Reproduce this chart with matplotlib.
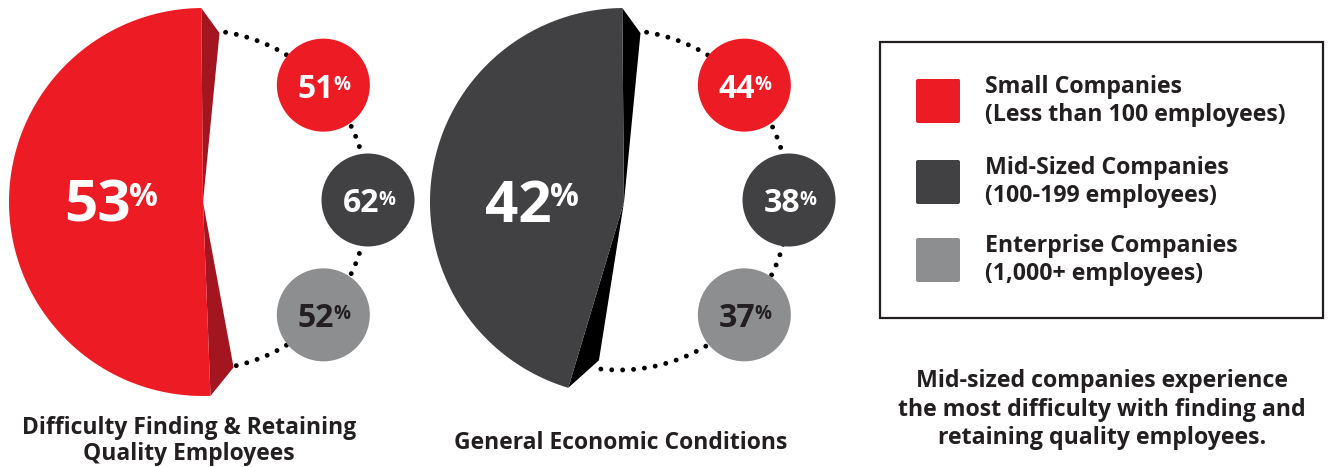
import numpy as np
import matplotlib
matplotlib.use("Agg")
import matplotlib.pyplot as plt
from matplotlib.patches import Polygon, Circle, FancyBboxPatch, Rectangle

# ---------------- data ----------------
panel_titles = ["Difficulty Finding & Retaining\nQuality Employees", "General Economic Conditions"]
overall_values = [53, 42]                      # big pie value per panel
small_values = [51, 44]                        # Small Companies
mid_values = [62, 38]                          # Mid-Sized Companies
enterprise_values = [52, 37]                   # Enterprise Companies
legend_titles = ["Small Companies", "Mid-Sized Companies", "Enterprise Companies"]
legend_subtitles = ["(Less than 100 employees)", "(100-199 employees)", "(1,000+ employees)"]
note_text = "Mid-sized companies experience\nthe most difficulty with finding and\nretaining quality employees."

# ---------------- style ----------------
RED = "#ed1c24"
DARK = "#414042"
GRAY = "#8d8e90"
INK = "#231f20"
front_colors = [RED, DARK]
side_colors = ["#a3151f", "#000000"]
seg_colors = [RED, DARK, GRAY]
seg_text_colors = ["white", "white", INK]
FONT = "Open Sans"

plt.rcParams["font.family"] = [FONT, "DejaVu Sans"]

W, H = 1331, 467
fig = plt.figure(figsize=(W / 100, H / 100), dpi=100)
ax = fig.add_axes([0, 0, 1, 1])
ax.set_xlim(0, W)
ax.set_ylim(H, 0)
ax.axis("off")
renderer = fig.canvas.get_renderer()

PX = 100 / 72.0  # pixels per point
CAPR = 0.714


def pt(cx, cy, r, a):
    """point at visual angle a (deg, counter-clockwise, y up) on a y-down canvas"""
    ar = np.radians(a)
    return np.array([cx + r * np.cos(ar), cy - r * np.sin(ar)])


def pct_label(x, y, num, color, fs_num, fs_pct, z=10):
    cap = CAPR * fs_num * PX
    base = y + cap / 2
    t1 = ax.text(0, base, str(num), fontsize=fs_num, fontweight="bold", color=color,
                 ha="left", va="baseline", zorder=z)
    pct_base = base - cap + CAPR * fs_pct * PX + 0.05 * fs_num * PX
    t2 = ax.text(0, pct_base, "%", fontsize=fs_pct, fontweight="bold", color=color,
                 ha="left", va="baseline", zorder=z)
    w1 = t1.get_window_extent(renderer).width
    w2 = t2.get_window_extent(renderer).width
    gap = -0.02 * fs_num * PX
    total = w1 + gap + w2
    t1.set_x(x - total / 2)
    t2.set_x(x - total / 2 + w1 + gap)


panel_dx = 421
R = 194
for i in range(2):
    cx, cy = 203 + i * panel_dx, 202
    v = overall_values[i]
    a_top = 90.5
    span = 180 + (v - 52) * 1.72
    a_bot = a_top + span
    # front face
    arc = [pt(cx, cy, R, a) for a in np.linspace(a_top, a_bot, 200)]
    ax.add_patch(Polygon([(cx, cy)] + arc, closed=True, facecolor=front_colors[i],
                         edgecolor="none", zorder=3))
    # side faces (perspective extrusion)
    V = np.array([cx + 150, cy + 15])
    tdepth = 0.12
    top = pt(cx, cy, R, a_top)
    bot = pt(cx, cy, R, a_bot)
    top_e = top + tdepth * (V - top)
    bot_e = bot + tdepth * (V - bot) + np.array([6, -7])
    ax.add_patch(Polygon([(cx, cy), top, top_e], closed=True, facecolor=side_colors[i],
                         edgecolor="none", zorder=2))
    ax.add_patch(Polygon([(cx, cy), bot, bot_e], closed=True, facecolor=side_colors[i],
                         edgecolor="none", zorder=2))
    # dotted arc
    acx, acy, ar = cx - 5, cy - 2, 170
    a_start = np.degrees(np.arctan2(-(top_e[1] - acy), top_e[0] - acx)) - 2
    a_end = np.degrees(np.arctan2(-(bot_e[1] - acy), bot_e[0] - acx)) + 1
    if a_end > a_start:
        a_end -= 360
    arc_len = np.radians(a_start - a_end) * ar
    n = int(arc_len / 10.5)
    aa = np.linspace(a_start, a_end, n)
    dots = np.array([pt(acx, acy, ar, a) for a in aa])
    ax.scatter(dots[:, 0], dots[:, 1], s=12, color="black", edgecolors="none", zorder=1)
    # small circles
    vals = [small_values[i], mid_values[i], enterprise_values[i]]
    for k, ang in enumerate([42.5, 0, -42.5]):
        c = pt(acx, acy, ar, ang)
        ax.add_patch(Circle(c, 46.5, facecolor=seg_colors[k], edgecolor="none", zorder=4))
        pct_label(c[0] + 1, c[1] + 1, vals[k], seg_text_colors[k], 23, 13.5, z=5)
    # big label
    pct_label(cx - 92, cy - 1, v, "white", 42, 23, z=5)

# panel titles
TFS = 16.5
ax.text(189, 434, panel_titles[0].split("\n")[0], fontsize=TFS, fontweight="bold", color=INK,
        ha="center", va="baseline")
ax.text(189, 460, panel_titles[0].split("\n")[1], fontsize=TFS, fontweight="bold", color=INK,
        ha="center", va="baseline")
ax.text(621, 449, panel_titles[1], fontsize=TFS, fontweight="bold", color=INK,
        ha="center", va="baseline")

# legend box
LFS = 16.7
ax.add_patch(Rectangle((879.5, 41.5), 443, 276, facecolor="none", edgecolor=INK, lw=1.6, zorder=3))
sw_y = [78, 159, 237]
for k in range(3):
    ax.add_patch(FancyBboxPatch((916, sw_y[k] + 1), 44, 44,
                                boxstyle="round,pad=0,rounding_size=2",
                                facecolor=seg_colors[k], edgecolor="none", zorder=3))
    ax.text(985, sw_y[k] + 15, legend_titles[k], fontsize=LFS, fontweight="bold", color=INK,
            ha="left", va="baseline")
    ax.text(985, sw_y[k] + 43, legend_subtitles[k], fontsize=LFS, fontweight="bold", color=INK,
            ha="left", va="baseline")

for j, line in enumerate(note_text.split("\n")):
    ax.text(1102, 387 + j * 28.5, line, fontsize=LFS, fontweight="bold", color=INK,
            ha="center", va="baseline")

fig.savefig("out.png", dpi=100, facecolor="white")
